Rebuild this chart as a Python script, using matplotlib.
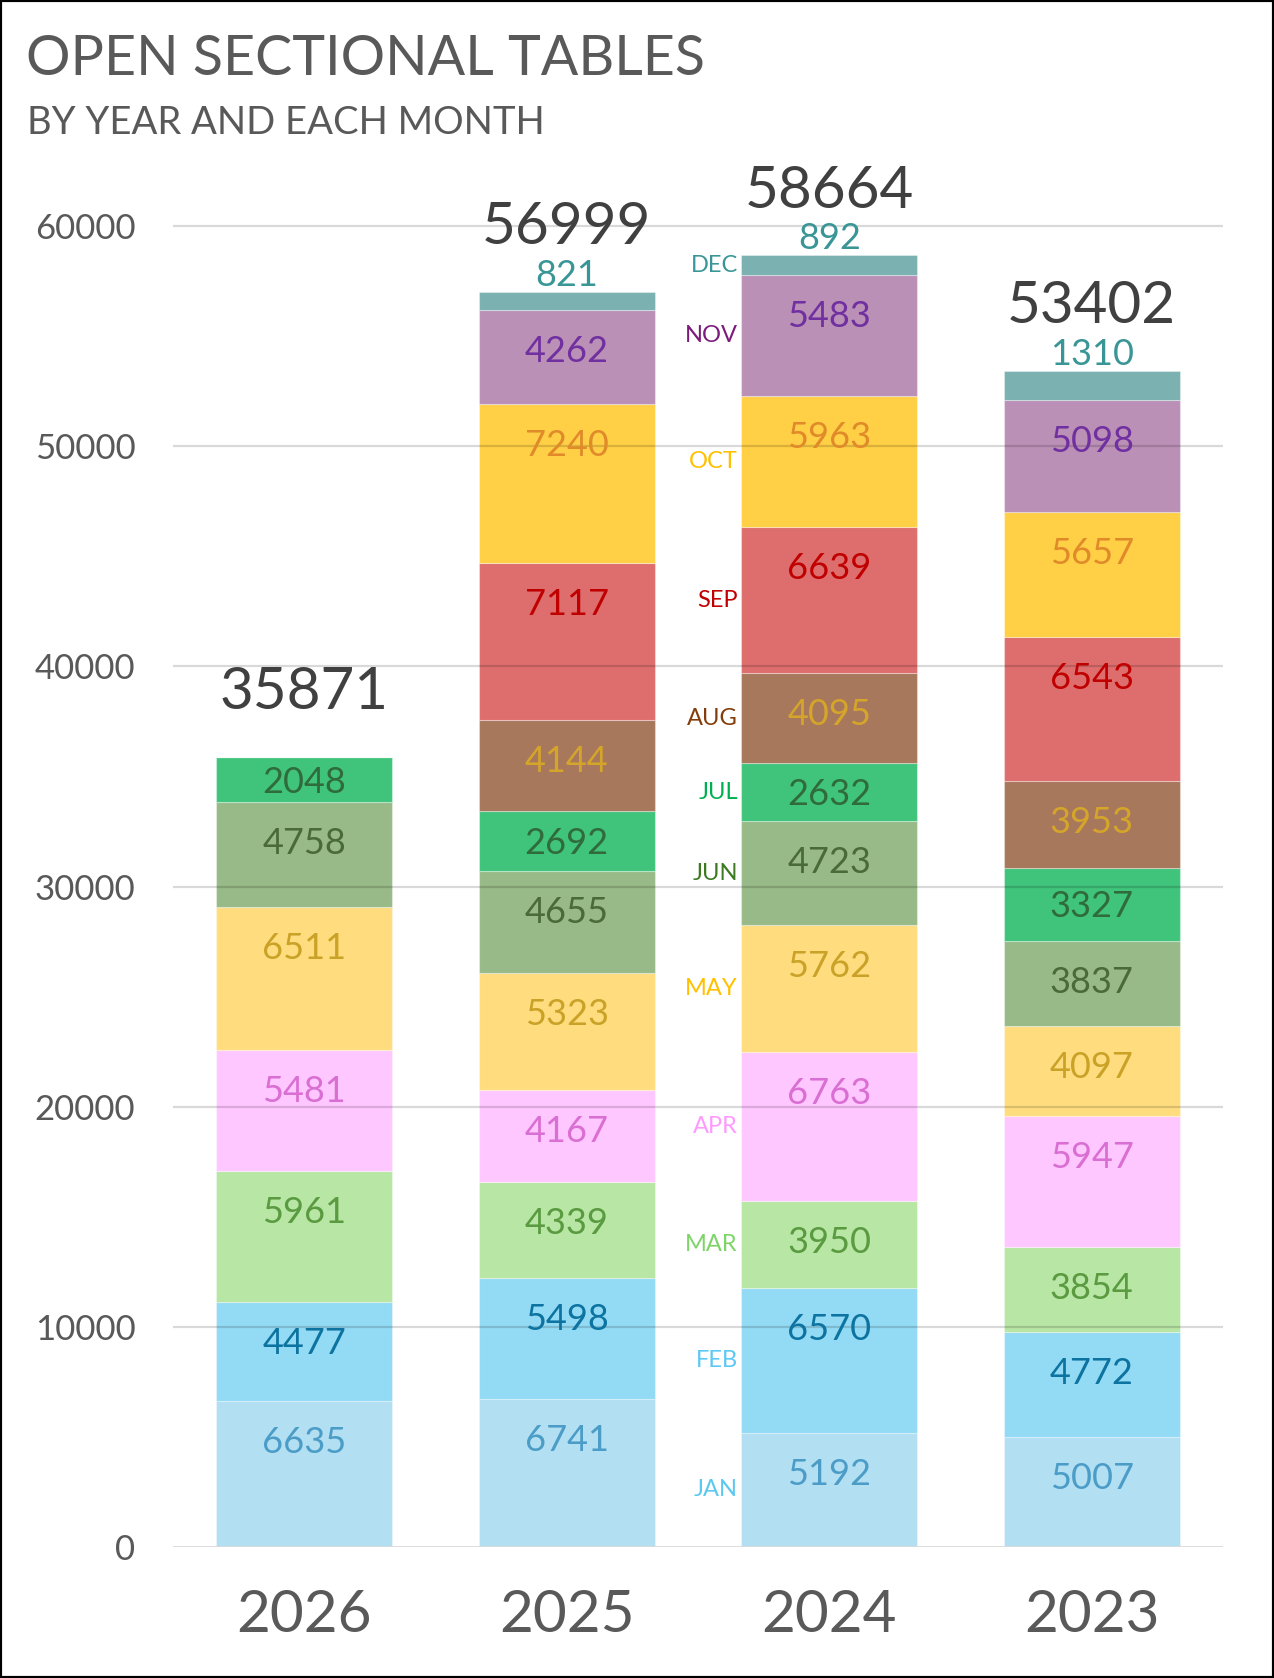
import numpy as np
import matplotlib
matplotlib.use('Agg')
import matplotlib.pyplot as plt
from matplotlib.patches import Rectangle

plt.rcParams['font.family'] = ['Lato', 'DejaVu Sans']

# data
years = ['2026', '2025', '2024', '2023']
months = ['JAN', 'FEB', 'MAR', 'APR', 'MAY', 'JUN',
          'JUL', 'AUG', 'SEP', 'OCT', 'NOV', 'DEC']
jan = [6635, 6741, 5192, 5007]
feb = [4477, 5498, 6570, 4772]
mar = [5961, 4339, 3950, 3854]
apr = [5481, 4167, 6763, 5947]
may = [6511, 5323, 5762, 4097]
jun = [4758, 4655, 4723, 3837]
jul = [2048, 2692, 2632, 3327]
aug = [0, 4144, 4095, 3953]
sep = [0, 7117, 6639, 6543]
oct_ = [0, 7240, 5963, 5657]
nov = [0, 4262, 5483, 5098]
dec = [0, 821, 892, 1310]

# colours
bar_colors = ['#B3DFF2', '#93DBF5', '#B8E6A4', '#FFC7FF', '#FFDD7F', '#98BA88',
              '#40C47C', '#A7785B', '#DE6E6E', '#FFD045', '#BB90B7', '#7BB1B1']
value_colors = ['#4B9DC8', '#0D73A0', '#5A9A40', '#DA6FD3', '#C9A227', '#4A6B38',
                '#2F6B3D', '#D4A52A', '#C00000', '#E08A2A', '#7030A0', '#3A9696']
month_colors = ['#5BC8F0', '#5BC8F5', '#7ED468', '#FF99FF', '#FFC000', '#3C7A1F',
                '#00B050', '#843C0C', '#C00000', '#FFC000', '#7B1C7B', '#3A9696']

series = np.array([jan, feb, mar, apr, may, jun, jul, aug, sep, oct_, nov, dec], dtype=float)
totals = series.sum(axis=0)

W, H = 1274, 1678
fig = plt.figure(figsize=(W / 100, H / 100), dpi=100)
ax = fig.add_axes([173 / W, 1 - 1547 / H, (1223 - 173) / W, (1547 - 160) / H])

x = np.arange(len(years))
width = 0.67
ymin, ymax = 0, 63000
px_per_unit = (1547 - 160) / (ymax - ymin)

bottom = np.zeros(len(years))
label_year = 2  # month names sit beside the 2024 column
for i, m in enumerate(months):
    vals = series[i]
    ax.bar(x, vals, width, bottom=bottom, color=bar_colors[i],
           edgecolor=(1, 1, 1, 0.35), linewidth=0.8, zorder=2)
    for j in range(len(years)):
        v = vals[j]
        if v <= 0:
            continue
        top = bottom[j] + v
        if m == 'DEC':
            ax.annotate(f'{int(v)}', (x[j], top), xytext=(0, 4.5), textcoords='offset points',
                        ha='center', va='baseline', fontsize=26, color=value_colors[i],
                        zorder=4, annotation_clip=False)
        else:
            mid = bottom[j] + v / 2
            base = max(top - 52 / px_per_unit, mid - 12.8 / px_per_unit)
            ax.text(x[j], base, f'{int(v)}', ha='center', va='baseline', fontsize=26,
                    color=value_colors[i], zorder=4)
    # month name next to the 2024 column
    mid24 = bottom[label_year] + vals[label_year] / 2
    ax.annotate(m, (x[label_year] - width / 2, mid24), xytext=(-2.5, 0), textcoords='offset points',
                ha='right', va='center', fontsize=17, color=month_colors[i], zorder=4)
    bottom += vals

for j in range(len(years)):
    ax.annotate(f'{int(totals[j])}', (x[j], totals[j]), xytext=(0, 34.5), textcoords='offset points',
                ha='center', va='baseline', fontsize=42, color='#404040',
                annotation_clip=False, zorder=4)

ax.set_xlim(-0.5, 3.5)
ax.set_ylim(ymin, ymax)
ax.set_yticks(np.arange(0, 60001, 10000))
ax.set_xticks(x)
ax.set_xticklabels(years)
ax.tick_params(axis='y', length=0, pad=27, labelsize=25, labelcolor='#595959')
ax.tick_params(axis='x', length=0, pad=30, labelsize=42, labelcolor='#595959')
for s in ax.spines.values():
    s.set_visible(False)
for yv in np.arange(10000, 60001, 10000):
    ax.axhline(yv, color='black', alpha=0.15, linewidth=1.6, zorder=3)
ax.axhline(0, color='#D9D9D9', linewidth=2, zorder=3)

fig.text(26 / W, 1 - 75 / H, 'OPEN SECTIONAL TABLES', fontsize=40, color='#595959',
         ha='left', va='baseline')
fig.text(27 / W, 1 - 134 / H, 'BY YEAR AND EACH MONTH', fontsize=27.5, color='#595959',
         ha='left', va='baseline')

fig.patches.append(Rectangle((0, 0), 1, 1, transform=fig.transFigure, fill=False,
                             edgecolor='black', linewidth=3, zorder=10))

fig.savefig('out.png', dpi=100)
